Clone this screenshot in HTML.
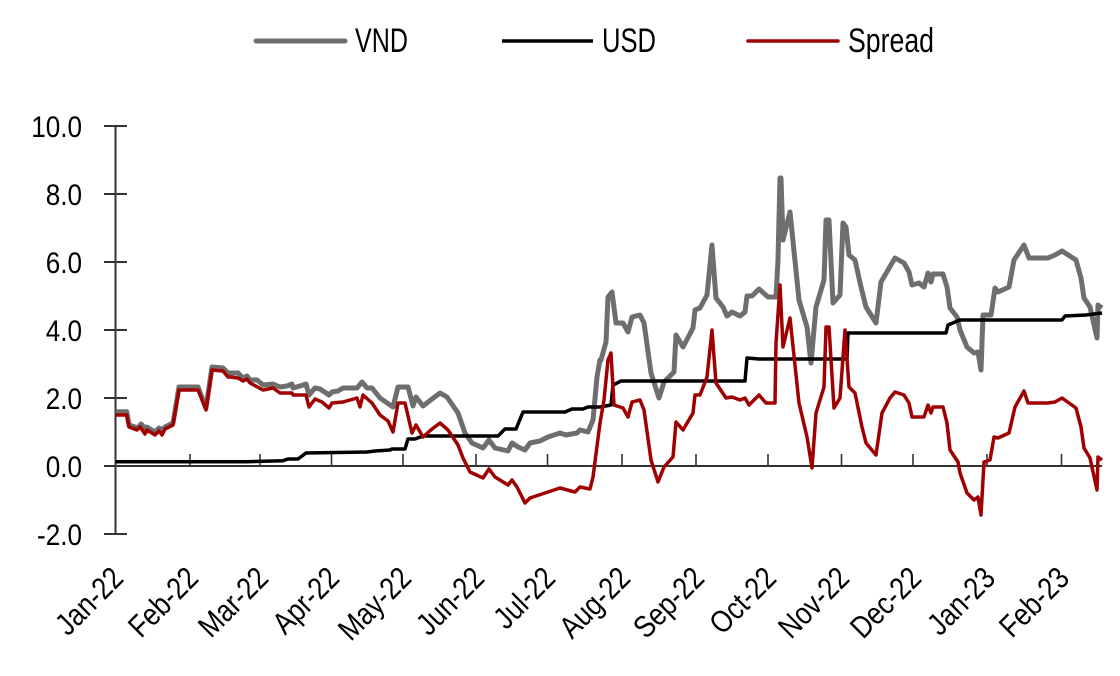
<!DOCTYPE html>
<html><head><meta charset="utf-8"><style>
html,body{margin:0;padding:0;background:#fff;}
svg{display:block;font-family:"Liberation Sans",sans-serif;}
</style></head><body>
<svg width="1120" height="676" viewBox="0 0 1120 676" xmlns="http://www.w3.org/2000/svg">
<!-- legend -->
<line x1="256" y1="41" x2="345" y2="41" stroke="#6e6e6e" stroke-width="5" stroke-linecap="round"/>
<text x="355" y="52" font-size="34" textLength="53" lengthAdjust="spacingAndGlyphs">VND</text>
<line x1="502" y1="41" x2="593" y2="41" stroke="#000" stroke-width="3.5"/>
<text x="602" y="52" font-size="34" textLength="54" lengthAdjust="spacingAndGlyphs">USD</text>
<line x1="748" y1="41" x2="838" y2="41" stroke="#a00000" stroke-width="3.5" stroke-linecap="round"/>
<text x="848" y="52" font-size="34" textLength="86" lengthAdjust="spacingAndGlyphs">Spread</text>

<!-- y axis -->
<g stroke="#333" stroke-width="2">
<line x1="115.5" y1="126" x2="115.5" y2="534"/>
<line x1="104" y1="126" x2="127" y2="126"/>
<line x1="104" y1="194" x2="127" y2="194"/>
<line x1="104" y1="262" x2="127" y2="262"/>
<line x1="104" y1="330" x2="127" y2="330"/>
<line x1="104" y1="398" x2="127" y2="398"/>
<line x1="104" y1="534" x2="127" y2="534"/>
<line x1="104" y1="466" x2="1102" y2="466"/>
</g>
<g stroke="#333" stroke-width="1.6">
<line x1="190" y1="454" x2="190" y2="466"/><line x1="260" y1="454" x2="260" y2="466"/>
<line x1="331.5" y1="454" x2="331.5" y2="466"/><line x1="403" y1="454" x2="403" y2="466"/>
<line x1="476" y1="454" x2="476" y2="466"/><line x1="547.5" y1="454" x2="547.5" y2="466"/>
<line x1="622" y1="454" x2="622" y2="466"/><line x1="696" y1="454" x2="696" y2="466"/>
<line x1="768" y1="454" x2="768" y2="466"/><line x1="841.5" y1="454" x2="841.5" y2="466"/>
<line x1="913" y1="454" x2="913" y2="466"/><line x1="987" y1="454" x2="987" y2="466"/>
<line x1="1061.5" y1="454" x2="1061.5" y2="466"/>
</g>
<g font-size="30" text-anchor="end">
<text transform="translate(82,137) scale(0.87,1)">10.0</text>
<text transform="translate(82,205) scale(0.87,1)">8.0</text>
<text transform="translate(82,273) scale(0.87,1)">6.0</text>
<text transform="translate(82,341) scale(0.87,1)">4.0</text>
<text transform="translate(82,409) scale(0.87,1)">2.0</text>
<text transform="translate(82,477) scale(0.87,1)">0.0</text>
<text transform="translate(82,545) scale(0.87,1)">-2.0</text>
</g>
<g font-size="31" text-anchor="end">
<text transform="translate(125,580) rotate(-45) scale(0.85,1)">Jan-22</text>
<text transform="translate(200,580) rotate(-45) scale(0.85,1)">Feb-22</text>
<text transform="translate(270,580) rotate(-45) scale(0.85,1)">Mar-22</text>
<text transform="translate(341,580) rotate(-45) scale(0.85,1)">Apr-22</text>
<text transform="translate(413,580) rotate(-45) scale(0.85,1)">May-22</text>
<text transform="translate(486,580) rotate(-45) scale(0.85,1)">Jun-22</text>
<text transform="translate(557,580) rotate(-45) scale(0.85,1)">Jul-22</text>
<text transform="translate(632,580) rotate(-45) scale(0.85,1)">Aug-22</text>
<text transform="translate(706,580) rotate(-45) scale(0.85,1)">Sep-22</text>
<text transform="translate(778,580) rotate(-45) scale(0.85,1)">Oct-22</text>
<text transform="translate(851,580) rotate(-45) scale(0.85,1)">Nov-22</text>
<text transform="translate(923,580) rotate(-45) scale(0.85,1)">Dec-22</text>
<text transform="translate(997,580) rotate(-45) scale(0.85,1)">Jan-23</text>
<text transform="translate(1071,580) rotate(-45) scale(0.85,1)">Feb-23</text>
</g>

<!-- VND -->
<polyline fill="none" stroke="#6e6e6e" stroke-width="5" stroke-linejoin="round" points="
115.7,411.7 126.7,411.7 129,425 138,428 141,424 145,428 146.7,427 155,432 159,428 162,430 165,427 173,423 179,387 198,387 206,408 212,367 223,368 228,373 238,373 243,378 247,376 250,380 257,380 263,385 273,384 280,387 287,386 292,384 293,388 300,386 306,384 309,395 315,388 320,389 329,395 332,392 338,391 343,388 357,388 362,382 367,388 372,388 380,398 393,407 398,387 408,387 413,406 416,397 423,406 432,399 440,393 447,397 458,413 465,433 472,443 483,448 489,440 495,448 508,451 512,443 518,447 525,450 530,443 540,441 548,437 560,433 566,435 577,433 580,430 588,432 593,420 597,377 600,360
601,360 606,342 608,297 612,292 616,323 623,323 628,332 632,317 640,315 644,323 651,373 659,398 664,382 674,372 676,335 683,347 693,328 695,310 700,308 707,295 712,245 716,298 723,307 727,316 732,312 740,316 745,312 747,296 752,296 759,289 768,297 776,297 778,260 780,178 781,178 783,240 790,212 799,300 807,327 811,363 816,307 824,280 826,220 829,220 833,303 840,295 843,223 846,227 849,255 855,260 861,287 866,307 876,323 881,282 888,270 895,258 904,263 909,272 912,285 919,283 924,287 928,273 931,282 933,274 943,274 947,287 950,308 957,317 960,330 967,347 974,353 978,352 981,370 983,315 991,315 995,288 998,292 1009,287 1014,260 1024,245 1029,258 1048,258 1055,255 1062,251 1076,260 1081,278 1084,298 1090,307 1097,338 1098,305 1102,308"/>

<!-- USD -->
<polyline fill="none" stroke="#000" stroke-width="3.5" stroke-linejoin="round" points="
115.7,461.7 247,461.7 283,460.7 288,459 298,459 306,453 367,452 375,451 390,450 392,449 405,449 408,439 415,439 423,436 433,436 498,436 505,429 516,429 523,412 565,412 572,409 583,409 588,407 600,407 611,405 613,385 621,381 745,381 747,358 759,359 847,359 848,333 946,333 948,325 960,320 1062,320 1065,316 1086,315 1102,313"/>

<!-- Spread -->
<polyline fill="none" stroke="#a00000" stroke-width="3.5" stroke-linejoin="round" points="
115.7,415 126.7,415 129,427 137,430 140,427 145,434 147,430 155,435 159,431 162,435 165,429 173,425 179,390 198,390 206,410 212,370 223,371 228,377 230,377 238,378 243,381 247,379 250,383 263,390 273,388 280,393 292,393 293,395 306,395 309,407 315,399 322,402 329,408 332,403 343,402 357,398 360,407 363,395 372,403 380,415 388,421 393,432 398,403 405,403 412,433 416,425 423,437 432,429 440,423 448,430 458,445 463,458 470,472 483,478 489,469 495,477 508,485 512,480 517,487 525,503 530,498 545,493 560,488 575,492 580,487 590,489 593,477 600,423
604,400 608,360 611,353 614,405 623,408 628,417 632,402 640,400 644,410 651,460 658,482 664,467 673,457 676,422 683,430 693,413 695,395 700,395 707,377 712,330 716,383 726,398 732,397 740,400 745,398 749,405 759,395 766,403 775,403 776,343 780,285 783,347 790,318 799,403 807,437 812,468 816,413 824,387 826,327 829,327 834,408 840,398 845,330 849,387 855,393 862,427 866,443 876,455 882,413 890,398 895,392 904,395 909,403 912,417 924,417 928,405 931,413 933,407 943,407 947,423 950,450 958,462 960,473 967,493 974,500 978,497 981,515 984,462 990,460 994,437 998,438 1009,433 1015,407 1024,391 1028,403 1048,403 1055,402 1062,398 1076,408 1081,427 1084,448 1090,458 1097,490 1098,457 1102,460"/>
</svg>
</body></html>
